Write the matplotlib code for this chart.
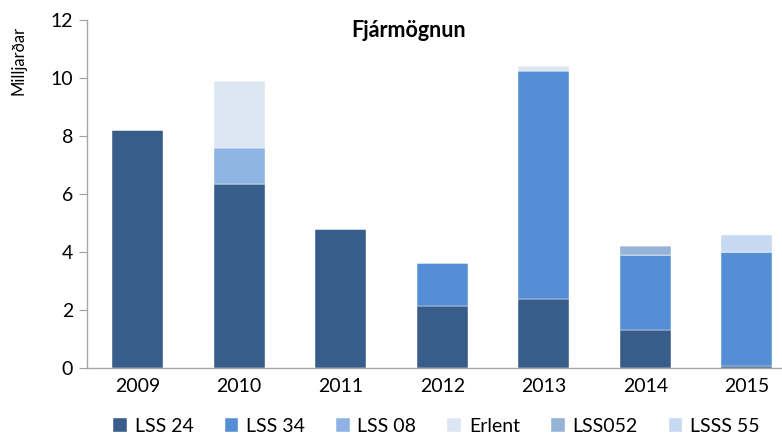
import numpy as np
import matplotlib
matplotlib.use("Agg")
import matplotlib.pyplot as plt

plt.rcParams["font.family"] = ["Lato", "DejaVu Sans"]

years = ["2009", "2010", "2011", "2012", "2013", "2014", "2015"]
series_names = ["LSS 24", "LSS 34", "LSS 08", "Erlent", "LSS052", "LSSS 55"]
lss24 = [8.2, 6.35, 4.8, 2.14, 2.38, 1.31, 0.07]
lss34 = [0, 0, 0, 1.48, 7.87, 2.6, 3.94]
lss08 = [0, 1.25, 0, 0, 0, 0, 0]
erlent = [0, 2.3, 0, 0, 0.16, 0, 0]
lss052 = [0, 0, 0, 0, 0, 0.3, 0]
lsss55 = [0, 0, 0, 0, 0, 0, 0.58]
colors = ["#385D8A", "#558ED5", "#8EB4E3", "#DCE6F2", "#95B3D7", "#C6D9F1"]

fig = plt.figure(figsize=(7.82, 4.34), dpi=100)
ax = fig.add_axes([0.111, 0.152, 0.909, 0.802])

x = np.arange(len(years))
bottom = np.zeros(len(years))
handles = []
for name, vals, col in zip(series_names, [lss24, lss34, lss08, erlent, lss052, lsss55], colors):
    vals = np.array(vals)
    h = ax.bar(x, vals, 0.5, bottom=bottom, color=col, label=name,
               edgecolor="white", linewidth=0.3)
    handles.append(h)
    bottom += vals

ax.set_xlim(-0.5, len(years) - 0.5)
ax.set_ylim(0, 12)
ax.set_yticks(range(0, 13, 2))
ax.set_xticks(x)
ax.set_xticklabels(years)
ax.tick_params(axis="x", length=0, labelsize=14, pad=7)
ax.tick_params(axis="y", length=6, color="#A0A0A0", labelsize=14, pad=4)
for s in ["top", "right"]:
    ax.spines[s].set_visible(False)
for s in ["left", "bottom"]:
    ax.spines[s].set_color("#A6A6A6")
    ax.spines[s].set_linewidth(1)

fig.text(0.523, 0.93, "Fjármögnun", fontsize=15.5, fontweight="bold",
         ha="center", va="center")
fig.text(0.024, 0.86, "Milljarðar", rotation=90, fontsize=12,
         ha="center", va="center")

fig.legend(handles=handles, labels=series_names, ncol=6, loc="lower left",
           bbox_to_anchor=(0.135, -0.02), frameon=False, fontsize=14,
           handlelength=0.7, handleheight=0.7, handletextpad=0.4,
           columnspacing=1.6, borderaxespad=0)

fig.savefig("out.png", dpi=100)
